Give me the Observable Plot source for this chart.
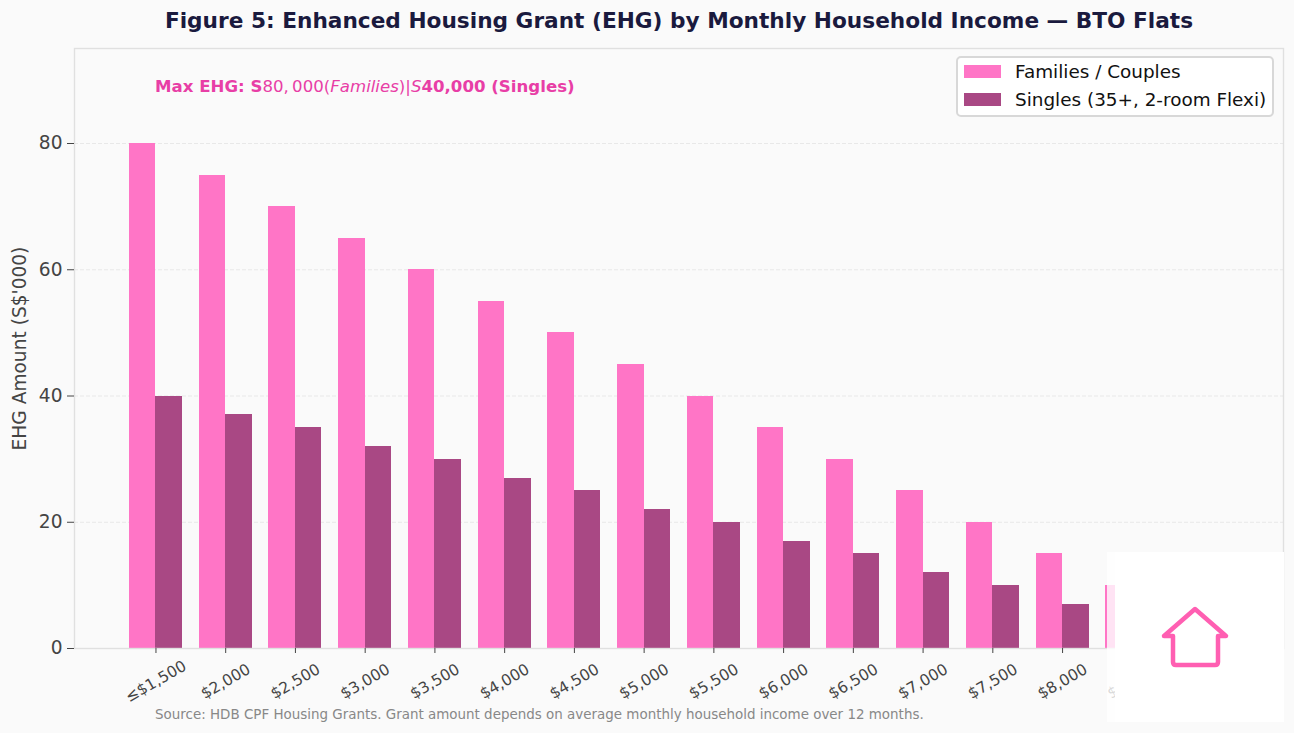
<!DOCTYPE html>
<html><head><meta charset="utf-8">
<script src="https://cdn.jsdelivr.net/npm/d3@7"></script>
<script src="https://cdn.jsdelivr.net/npm/@observablehq/plot@0.6"></script>
<style>
html,body{margin:0;padding:0;background:#fafafa;overflow:hidden}
body{font-family:"DejaVu Sans",sans-serif}
#wrap{position:relative;width:1294px;height:733px;overflow:hidden}
#title{position:absolute;left:64px;width:1230px;top:8px;text-align:center;font-size:21.66px;font-weight:700;color:#1a1a3e;line-height:26px;white-space:nowrap}
#chart{position:absolute;left:0;top:48px}
#chart svg{display:block}
#note{position:absolute;left:155px;top:77px;font-size:16.6px;line-height:20px;color:#e83ea6;white-space:nowrap;font-weight:700}
#note span{font-weight:400}#note i{font-weight:400}
#legend{position:absolute;left:956px;top:56px;width:318px;height:61px;box-sizing:border-box;background:#fff;border:2px solid #d8d8d8;border-radius:5px}
.row{position:absolute;left:6px;height:27px;display:flex;align-items:center;font-size:18.4px;color:#111;white-space:nowrap}
.sw{width:37px;height:13px;margin-right:14px;flex:none}
#caption{position:absolute;left:155px;top:707px;font-size:13.45px;line-height:16px;color:#888;white-space:nowrap}
#fade{position:absolute;left:1107px;top:552px;width:8px;height:170px;background:rgba(255,255,255,.8)}
#badge{position:absolute;left:1115px;top:552px;width:169px;height:170px;background:#fff}
#icon{position:absolute;left:0;top:0}
</style></head><body>
<div id="wrap">
<div id="title"></div>
<div id="chart"></div>
<div id="note"></div>
<div id="legend"></div>
<div id="caption"></div>
<div id="fade"></div>
<div id="badge"><svg id="icon" width="169" height="170" viewBox="0 0 169 170"><path d="M49 84 L80 57 L111 84 L103 84 L103 110 Q103 113 100 113 L61 113 Q58 113 58 110 L58 84 Z" fill="none" stroke="#ff5fb2" stroke-width="4.5" stroke-linejoin="round" stroke-linecap="round"/></svg></div>
</div>
<script>
const titleText = "Figure 5: Enhanced Housing Grant (EHG) by Monthly Household Income — BTO Flats";
const captionText = "Source: HDB CPF Housing Grants. Grant amount depends on average monthly household income over 12 months.";
const yLabel = "EHG Amount (S$'000)";
const incomes = ["≤$1,500","$2,000","$2,500","$3,000","$3,500","$4,000","$4,500","$5,000","$5,500","$6,000","$6,500","$7,000","$7,500","$8,000","$8,500","$9,000"];
const families = [80,75,70,65,60,55,50,45,40,35,30,25,20,15,10,5];
const singles = [40,37,35,32,30,27,25,22,20,17,15,12,10,7,5,2];
const seriesNames = ["Families / Couples","Singles (35+, 2-room Flexi)"];
const seriesColors = ["#ff75c6","#a94884"];
const yTicks = [0,20,40,60,80];

const famRows = incomes.map((inc,i)=>({inc, v:families[i]}));
const sinRows = incomes.map((inc,i)=>({inc, v:singles[i]}));

document.getElementById("title").textContent = titleText;
document.getElementById("caption").textContent = captionText;
document.getElementById("note").innerHTML = 'Max EHG: S<span>80,&#8201;000(<i>Families</i>)|<i>S</i></span>40,000 (Singles)';
const lg = document.getElementById("legend");
seriesNames.forEach((n,i)=>{
  const r=document.createElement("div");r.className="row";r.style.top=(i===0?0:28)+"px";
  const s=document.createElement("div");s.className="sw";s.style.background=seriesColors[i];
  r.appendChild(s);r.appendChild(document.createTextNode(n));lg.appendChild(r);
});

const plot = Plot.plot({
  width:1294, height:685,
  marginLeft:74, marginRight:11, marginTop:0, marginBottom:85,
  style:{background:"transparent",fontFamily:"DejaVu Sans",overflow:"visible"},
  x:{type:"band",domain:incomes,paddingInner:0.24,paddingOuter:0.788,round:false,label:null},
  y:{domain:[0,95.05],label:null},
  marks:[
    Plot.gridY(yTicks,{stroke:"#e8e8e8",strokeOpacity:1,strokeDasharray:"4 2"}),
    Plot.barY(famRows,{x:"inc",y:"v",fill:seriesColors[0],insetRight:26.5,shapeRendering:"crispEdges"}),
    Plot.barY(sinRows,{x:"inc",y:"v",fill:seriesColors[1],insetLeft:26.5,shapeRendering:"crispEdges"}),
    Plot.frame({stroke:"#e0e0e0",strokeWidth:1.4}),
    Plot.axisY({ticks:yTicks,tickSize:7,tickPadding:5,fontSize:18.6,stroke:"#444",color:"#444",
      label:yLabel,labelAnchor:"center",labelArrow:"none",labelOffset:62}),
    Plot.axisX({tickSize:5,tickPadding:28,fontSize:15.5,color:"#444",stroke:"#444",tickRotate:-30,textAnchor:"middle",label:null})
  ]
});
document.getElementById("chart").appendChild(plot);
</script>
</body></html>
